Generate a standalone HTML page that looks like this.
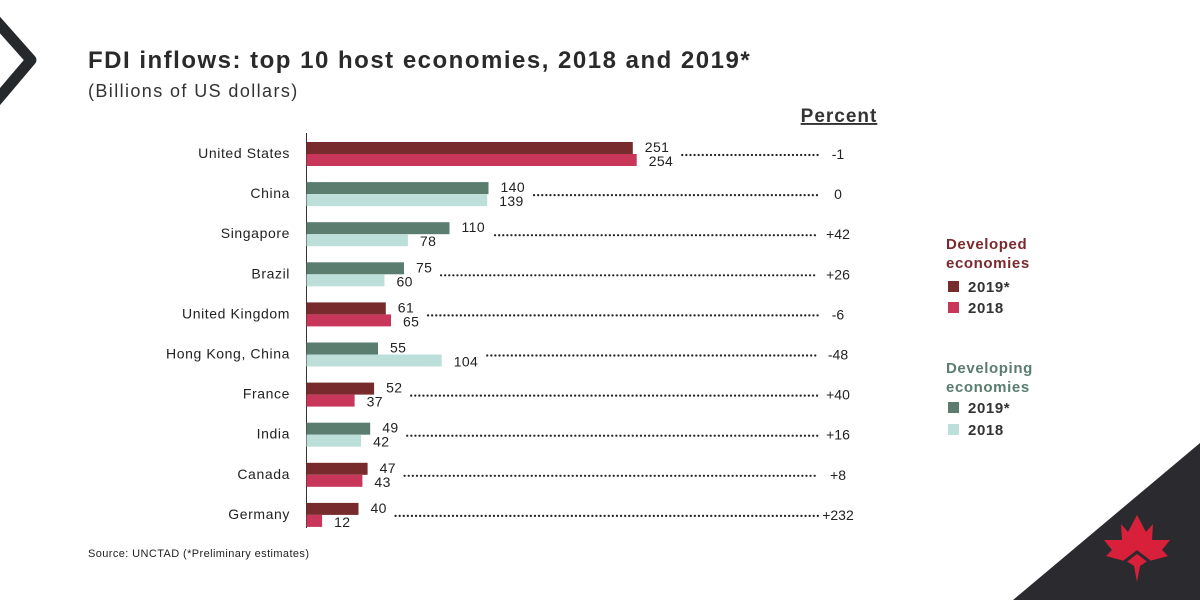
<!DOCTYPE html>
<html><head><meta charset="utf-8">
<style>
body{margin:0;background:#fff;}
svg{display:block;font-family:"Liberation Sans",sans-serif;}
</style></head>
<body>
<svg id="chart" width="1200" height="600" viewBox="0 0 1200 600">
  <polyline points="-8,16 31,60 -8,106" fill="none" stroke="#26292c" stroke-width="11" stroke-linejoin="round"/>
  <polygon points="1200,443 1200,600 1013,600" fill="#2b2a2e"/>
  <g>
    <polygon points="1137,515 1146,532 1153,524 1152,540 1170,540 1162,550 1168,556 1146,562 1140,566 1137,582 1134,566 1128,562 1106,556 1112,550 1104,540 1122,540 1121,524 1128,532" fill="#d8203a"/>
    <polyline points="1124,562 1137,552 1150,562" fill="none" stroke="#2b2a2e" stroke-width="3"/>
  </g>
  <text x="88" y="68" font-size="24" font-weight="bold" fill="#2a2a2a" letter-spacing="1.5">FDI inflows: top 10 host economies, 2018 and 2019*</text>
  <text x="88" y="97" font-size="18" fill="#333" letter-spacing="1.4">(Billions of US dollars)</text>
  <text x="839" y="122" font-size="19" font-weight="bold" fill="#333" letter-spacing="1" text-anchor="middle" text-decoration="underline">Percent</text>
  <line x1="306.5" y1="133" x2="306.5" y2="528" stroke="#333" stroke-width="1"/>
  <g id="bars"></g>
  <g letter-spacing="0.6">
    <text x="946" y="249" font-size="15" font-weight="bold" fill="#7a2a2e">Developed</text>
    <text x="946" y="268" font-size="15" font-weight="bold" fill="#7a2a2e">economies</text>
    <rect x="948" y="281" width="11" height="11" fill="#782b2d"/>
    <text x="968" y="292" font-size="15" font-weight="bold" fill="#333">2019*</text>
    <rect x="948" y="302" width="11" height="11" fill="#c8375a"/>
    <text x="968" y="313" font-size="15" font-weight="bold" fill="#333">2018</text>
    <text x="946" y="373" font-size="15" font-weight="bold" fill="#5a7d70">Developing</text>
    <text x="946" y="392" font-size="15" font-weight="bold" fill="#5a7d70">economies</text>
    <rect x="948" y="402" width="11" height="11" fill="#5a7d70"/>
    <text x="968" y="413" font-size="15" font-weight="bold" fill="#333">2019*</text>
    <rect x="948" y="424" width="11" height="11" fill="#bcdfd9"/>
    <text x="968" y="435" font-size="15" font-weight="bold" fill="#333">2018</text>
  </g>
  <text x="88" y="557" font-size="11" fill="#222" letter-spacing="0.4">Source: UNCTAD (*Preliminary estimates)</text>
</svg>
<script>
const categories=["United States","China","Singapore","Brazil","United Kingdom","Hong Kong, China","France","India","Canada","Germany"];
const values2019=[251,140,110,75,61,55,52,49,47,40];
const values2018=[254,139,78,60,65,104,37,42,43,12];
const percentLabels=["-1","0","+42","+26","-6","-48","+40","+16","+8","+232"];
const developed=[true,false,false,false,true,false,true,false,true,true];

const NS="http://www.w3.org/2000/svg";
const g=document.getElementById('bars');
const x0=306.5, scale=1.3;
const xPos=v=>x0+v*scale;
const rowY=i=>142+i*40.1;
function mk(tag,attrs){const e=document.createElementNS(NS,tag);for(const k in attrs)e.setAttribute(k,attrs[k]);g.appendChild(e);return e;}
categories.forEach((c,i)=>{
  const y=rowY(i);
  const c19=developed[i]?"#782b2d":"#5a7d70";
  const c18=developed[i]?"#c8375a":"#bcdfd9";
  const lab=mk('text',{x:290,y:y+16,'font-size':14,fill:'#222','text-anchor':'end','letter-spacing':0.6});
  lab.textContent=c;
  
  
  const b1=mk('rect',{x:x0,y:y,width:values2019[i]*scale,height:12,fill:c19});
  
  
  const b2=mk('rect',{x:x0,y:y+12,width:values2018[i]*scale,height:12,fill:c18});
  
  
  const e19=xPos(values2019[i]), e18=xPos(values2018[i]);
  const t1=mk('text',{x:e19+12,y:y+10,'font-size':14,fill:'#222','letter-spacing':0.4});
  t1.textContent=values2019[i];
  
  
  const t2=mk('text',{x:e18+12,y:y+24,'font-size':14,fill:'#222','letter-spacing':0.4});
  t2.textContent=values2018[i];
  
  
  const l19=e19+12+String(values2019[i]).length*8.5, l18=e18+12+String(values2018[i]).length*8.5;
  const start=Math.max(l19,l18)+8;
  const dots=mk('line',{x1:start,y1:y+13,x2:818,y2:y+13,stroke:'#222','stroke-width':2.2,'stroke-linecap':'round','stroke-dasharray':'0.1 4'});
  
  
  const p=mk('text',{x:838,y:y+17,'font-size':14,fill:'#222','text-anchor':'middle'});
  p.textContent=percentLabels[i];
  
  
});
</script>
</body></html>
